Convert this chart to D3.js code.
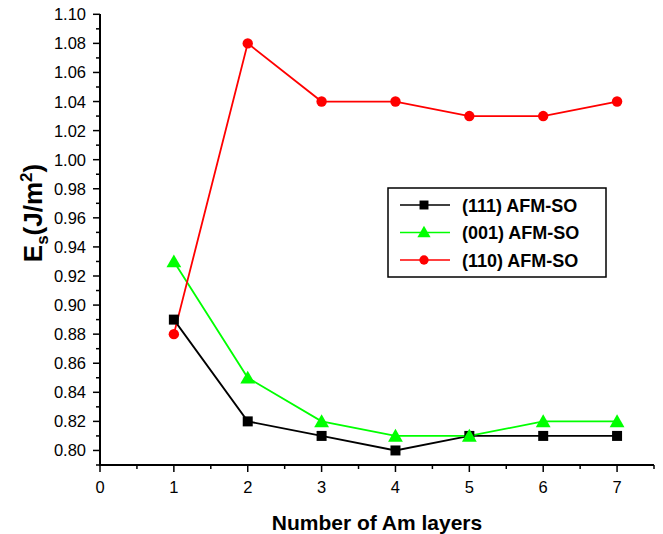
<!DOCTYPE html>
<html>
<head>
<meta charset="utf-8">
<script src="https://cdn.jsdelivr.net/npm/d3@7"></script>
<style>
  body { margin: 0; background: #fff; }
  svg { font-family: "Liberation Sans", Arial, sans-serif; }
</style>
</head>
<body>
<svg id="chart" width="663" height="534"></svg>
<script>
// data
const layers = [1, 2, 3, 4, 5, 6, 7];
const es111 = [0.89, 0.82, 0.81, 0.80, 0.81, 0.81, 0.81];
const es001 = [0.93, 0.85, 0.82, 0.81, 0.81, 0.82, 0.82];
const es110 = [0.88, 1.08, 1.04, 1.04, 1.03, 1.03, 1.04];
const seriesNames = ['(111) AFM-SO', '(001) AFM-SO', '(110) AFM-SO'];
const xTicks = [0, 1, 2, 3, 4, 5, 6, 7];
const yTicks = [0.80, 0.82, 0.84, 0.86, 0.88, 0.90, 0.92, 0.94, 0.96, 0.98, 1.00, 1.02, 1.04, 1.06, 1.08, 1.10];

const series = [
  { name: seriesNames[0], values: es111, color: '#000000', shape: d3.symbolSquare, size: 100 },
  { name: seriesNames[1], values: es001, color: '#00ff00', shape: d3.symbolTriangle, size: 95 },
  { name: seriesNames[2], values: es110, color: '#ff0000', shape: d3.symbolCircle, size: 85 }
];

const svg = d3.select('#chart');
const x = d3.scaleLinear().domain([0, 7.5]).range([100, 654]);
const y = d3.scaleLinear().domain([0.79, 1.10]).range([465, 14.3]);

// x axis
const gx = svg.append('g').attr('transform', 'translate(0,465)');
gx.append('line').attr('x1', 99).attr('x2', 654).attr('stroke', '#000').attr('stroke-width', 2);
d3.range(0, 7.51, 0.5).forEach(v => {
  const major = Number.isInteger(v);
  gx.append('line').attr('x1', x(v)).attr('x2', x(v)).attr('y1', 0).attr('y2', major ? 7 : 4)
    .attr('stroke', '#000').attr('stroke-width', 1.5);
});
gx.selectAll('text.tick').data(xTicks).enter().append('text')
  .attr('x', d => x(d)).attr('y', 28).attr('text-anchor', 'middle')
  .attr('font-size', 16.5).text(d => d);

// y axis
const gy = svg.append('g').attr('transform', 'translate(100,0)');
gy.append('line').attr('y1', 14).attr('y2', 466).attr('stroke', '#000').attr('stroke-width', 2);
d3.range(0, 16).forEach(i => {
  const v = 0.80 + i * 0.02;
  gy.append('line').attr('x1', 0).attr('x2', -7).attr('y1', y(v)).attr('y2', y(v))
    .attr('stroke', '#000').attr('stroke-width', 1.5);
});
d3.range(0, 16).forEach(i => {
  const v = 0.79 + i * 0.02;
  gy.append('line').attr('x1', 0).attr('x2', -4).attr('y1', y(v)).attr('y2', y(v))
    .attr('stroke', '#000').attr('stroke-width', 1.5);
});
gy.selectAll('text.tick').data(yTicks).enter().append('text')
  .attr('x', -14).attr('y', d => y(d) + 6).attr('text-anchor', 'end')
  .attr('font-size', 16.5).text(d => d.toFixed(2));

// axis titles
svg.append('text').attr('x', 377).attr('y', 530).attr('text-anchor', 'middle')
  .attr('font-size', 21).attr('font-weight', 'bold').text('Number of Am layers');

const yl = svg.append('text').attr('transform', 'translate(42,213) rotate(-90)')
  .attr('text-anchor', 'middle').attr('font-size', 26).attr('font-weight', 'bold');
yl.append('tspan').text('E');
yl.append('tspan').attr('font-size', 17).attr('dy', 6).text('s');
yl.append('tspan').attr('dy', -6).text('(J/m');
yl.append('tspan').attr('font-size', 17).attr('dy', -10).text('2');
yl.append('tspan').attr('dy', 10).text(')');

// lines + markers
const line = d3.line().x((d, i) => x(layers[i])).y(d => y(d));
series.forEach(s => {
  svg.append('path').datum(s.values).attr('d', line)
    .attr('fill', 'none').attr('stroke', s.color).attr('stroke-width', 1.8);
});
series.forEach(s => {
  svg.selectAll(null).data(s.values).enter().append('path')
    .attr('d', d3.symbol().type(s.shape).size(s.size))
    .attr('transform', (d, i) => `translate(${x(layers[i])},${y(d) + (s.shape === d3.symbolTriangle ? 1.5 : 0)})`)
    .attr('fill', s.color);
});

// legend
const lg = svg.append('g');
lg.append('rect').attr('x', 388).attr('y', 188).attr('width', 218).attr('height', 89)
  .attr('fill', '#fff').attr('stroke', '#000').attr('stroke-width', 1.5);
series.forEach((s, i) => {
  const ly = 205 + i * 27.5;
  lg.append('line').attr('x1', 400).attr('x2', 450).attr('y1', ly).attr('y2', ly)
    .attr('stroke', s.color).attr('stroke-width', 1.5);
  lg.append('path').attr('d', d3.symbol().type(s.shape).size(s.size * 0.8))
    .attr('transform', `translate(424,${ly + (s.shape === d3.symbolTriangle ? 1 : 0)})`).attr('fill', s.color);
  lg.append('text').attr('x', 462).attr('y', ly + 6.5).attr('font-size', 18)
    .attr('font-weight', 'bold').text(s.name);
});
</script>
</body>
</html>
